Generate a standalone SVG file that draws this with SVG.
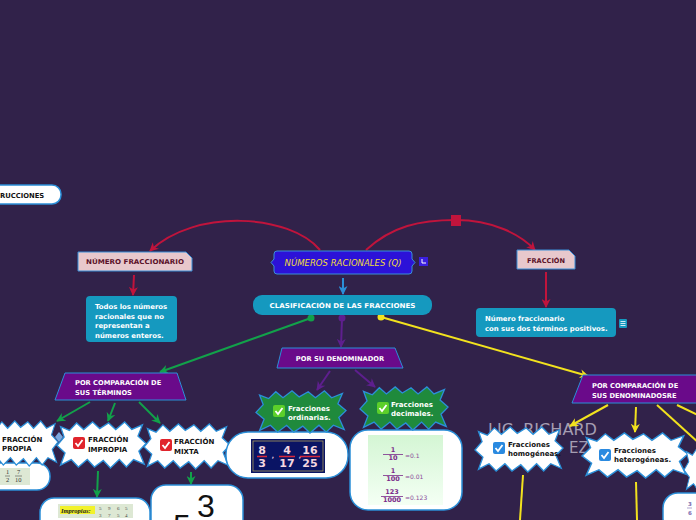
<svg xmlns="http://www.w3.org/2000/svg" width="696" height="520" viewBox="0 0 696 520">
<style>
.b{font-family:"DejaVu Sans","Liberation Sans",sans-serif;font-weight:bold}
.w{fill:#fff}
.k{fill:#111}
.sb{fill:#fff;stroke:#2b8fd8;stroke-width:1.5;vector-effect:non-scaling-stroke}
.sg{fill:#1f8a3c;stroke:#2b8fd8;stroke-width:1.5;vector-effect:non-scaling-stroke}
.wb{fill:#fff;stroke:#2b8fd8;stroke-width:1.5}
.trap{fill:#6a0a8a;stroke:#2b8fd8;stroke-width:1}
.pink{fill:#e8c8cc;stroke:#3a8fd8;stroke-width:1}
.teal{fill:#1599bf}
.c{fill:none;stroke-width:2}
.ser{font-family:"Liberation Serif",serif}
.pur{fill:#7a2a8a;font-family:"DejaVu Sans",sans-serif;font-weight:bold}
</style>
<defs>
<path id="star" d="M4,6 L14,10 L22,2 L30,9 L40,1 L48,8 L58,2 L66,9 L76,1 L84,9 L96,4 L91,16 L100,24 L92,32 L98,46 L86,41 L78,49 L70,41 L60,50 L52,42 L42,49 L34,41 L24,49 L16,41 L4,47 L9,34 L0,26 L8,17 Z"/>
<marker id="aR" viewBox="0 0 10 10" refX="9" refY="5" markerWidth="10" markerHeight="9" markerUnits="userSpaceOnUse" orient="auto"><path d="M0,0 L10,5 L0,10 L3,5 Z" fill="#c0143c"/></marker>
<marker id="aG" viewBox="0 0 10 10" refX="9" refY="5" markerWidth="10" markerHeight="9" markerUnits="userSpaceOnUse" orient="auto"><path d="M0,0 L10,5 L0,10 L3,5 Z" fill="#12a14a"/></marker>
<marker id="aP" viewBox="0 0 10 10" refX="9" refY="5" markerWidth="10" markerHeight="9" markerUnits="userSpaceOnUse" orient="auto"><path d="M0,0 L10,5 L0,10 L3,5 Z" fill="#5e1f8e"/></marker>
<marker id="aY" viewBox="0 0 10 10" refX="9" refY="5" markerWidth="10" markerHeight="9" markerUnits="userSpaceOnUse" orient="auto"><path d="M0,0 L10,5 L0,10 L3,5 Z" fill="#f2e21e"/></marker>
<marker id="aB" viewBox="0 0 10 10" refX="9" refY="5" markerWidth="10" markerHeight="9" markerUnits="userSpaceOnUse" orient="auto"><path d="M0,0 L10,5 L0,10 L3,5 Z" fill="#2b8fd8"/></marker>
<linearGradient id="gg" x1="0" y1="0" x2="0" y2="1"><stop offset="0" stop-color="#d4f6d4"/><stop offset="1" stop-color="#f4fff4"/></linearGradient>
<g id="chkR"><rect width="12" height="12" rx="2" fill="#e0242c"/><path d="M2.5,6 L5,9 L9.5,3" fill="none" stroke="#fff" stroke-width="1.8"/></g>
<g id="chkG"><rect width="12" height="12" rx="2" fill="#5ccf2a"/><path d="M2.5,6 L5,9 L9.5,3" fill="none" stroke="#fff" stroke-width="1.8"/></g>
<g id="chkB"><rect width="12" height="12" rx="2" fill="#2a8ae0"/><path d="M2.5,6 L5,9 L9.5,3" fill="none" stroke="#fff" stroke-width="1.8"/></g>
</defs>
<rect width="696" height="520" fill="#31224a"/>

<!-- watermark -->
<text x="488" y="435" font-family="DejaVu Sans,sans-serif" font-size="15" fill="#a59db2" textLength="109" lengthAdjust="spacingAndGlyphs">LIC. RICHARD</text>
<text x="569" y="453" font-family="DejaVu Sans,sans-serif" font-size="15" fill="#a59db2">EZ</text>

<g id="connectors">
<path class="c" stroke="#c0143c" d="M320,250 C290,214 195,208 150,251" marker-end="url(#aR)"/>
<path class="c" stroke="#c0143c" d="M366,250 C392,226 420,220 456,220 C492,220 520,234 535,250" marker-end="url(#aR)"/>
<rect x="451" y="215" width="10" height="11" fill="#c0143c"/>
<line class="c" stroke="#c0143c" x1="134" y1="275" x2="133" y2="295" marker-end="url(#aR)"/>
<line class="c" stroke="#c0143c" x1="546" y1="272" x2="546" y2="307" marker-end="url(#aR)"/>
<line class="c" stroke="#2b8fd8" x1="343" y1="278" x2="343" y2="294" marker-end="url(#aB)"/>
<line class="c" stroke="#12a14a" stroke-width="2.5" x1="311" y1="318" x2="160" y2="372" marker-end="url(#aG)"/>
<circle cx="311" cy="318" r="3.5" fill="#12a14a"/>
<line class="c" stroke="#5e1f8e" x1="342" y1="318" x2="341" y2="347" marker-end="url(#aP)"/>
<circle cx="342" cy="318" r="3.5" fill="#5e1f8e"/>
<line class="c" stroke="#f2e21e" x1="381" y1="317" x2="588" y2="376" marker-end="url(#aY)"/>
<circle cx="381" cy="317" r="3.5" fill="#f2e21e"/>
<line class="c" stroke="#12a14a" x1="90" y1="402" x2="57" y2="421" marker-end="url(#aG)"/>
<line class="c" stroke="#12a14a" x1="115" y1="403" x2="108" y2="421" marker-end="url(#aG)"/>
<line class="c" stroke="#12a14a" x1="139" y1="402" x2="160" y2="423" marker-end="url(#aG)"/>
<line class="c" stroke="#12a14a" x1="98" y1="471" x2="97" y2="497" marker-end="url(#aG)"/>
<line class="c" stroke="#12a14a" x1="191" y1="472" x2="191" y2="484" marker-end="url(#aG)"/>
<line class="c" stroke="#5e1f8e" x1="330" y1="371" x2="317" y2="390" marker-end="url(#aP)"/>
<line class="c" stroke="#5e1f8e" x1="355" y1="370" x2="375" y2="387" marker-end="url(#aP)"/>
<line class="c" stroke="#f2e21e" x1="608" y1="405" x2="570" y2="426" marker-end="url(#aY)"/>
<line class="c" stroke="#f2e21e" x1="636" y1="407" x2="635" y2="432" marker-end="url(#aY)"/>
<line class="c" stroke="#f2e21e" x1="657" y1="405" x2="700" y2="444"/>
<line class="c" stroke="#f2e21e" x1="677" y1="405" x2="700" y2="416"/>
<line class="c" stroke="#f2e21e" x1="523" y1="475" x2="520" y2="520"/>
<line class="c" stroke="#f2e21e" x1="636" y1="482" x2="637" y2="520"/>
</g>

<g id="instrucciones">
<rect x="-20" y="185" width="81" height="19" rx="9" class="wb"/>
<text x="0" y="198" class="b k" font-size="6.8">RUCCIONES</text>
</g>

<g id="main">
<path d="M277,251 H409 Q412,251 412,254 V259 L415,262.5 L412,266 V271 Q412,274 409,274 H277 Q274,274 274,271 V266 L271,262.5 L274,259 V254 Q274,251 277,251 Z" fill="#2c12d8" stroke="#3a8fd8" stroke-width="1"/>
<text x="343" y="265.5" text-anchor="middle" font-family="DejaVu Sans,sans-serif" font-style="italic" font-size="8.2" fill="#f2dc3a" textLength="117" lengthAdjust="spacingAndGlyphs">NÚMEROS RACIONALES (Q)</text>
<rect x="419" y="257" width="9" height="9" fill="#3a1fe0"/>
<path d="M422,259 V263 H426" fill="none" stroke="#fff" stroke-width="1"/>
</g>

<g id="clasificacion">
<rect x="253" y="295" width="179" height="20" rx="9" class="teal"/>
<text x="342.5" y="308" text-anchor="middle" class="b w" font-size="6.6" textLength="146" lengthAdjust="spacingAndGlyphs">CLASIFICACIÓN DE LAS FRACCIONES</text>
</g>

<g id="numero-fraccionario">
<path d="M78,252 H186 L192,258 V271 H78 Z" class="pink"/>
<text x="135" y="264" text-anchor="middle" class="b" fill="#5a1028" font-size="6.6" textLength="98" lengthAdjust="spacingAndGlyphs">NÚMERO FRACCIONARIO</text>
</g>

<g id="todos">
<rect x="86" y="296" width="91" height="46" rx="4" class="teal"/>
<text class="b w" font-size="6.9"><tspan x="95" y="309">Todos los números</tspan><tspan x="95" y="318.5">racionales que no</tspan><tspan x="95" y="328">representan a</tspan><tspan x="95" y="337.5">números enteros.</tspan></text>
</g>

<g id="fraccion">
<path d="M517,250 H569 L575,256 V269 H517 Z" class="pink"/>
<text x="546" y="262.5" text-anchor="middle" class="b" fill="#5a1028" font-size="6.6">FRACCIÓN</text>
</g>

<g id="numero-def">
<rect x="476" y="308" width="140" height="29" rx="4" class="teal"/>
<text class="b w" font-size="6.9"><tspan x="485" y="321">Número fraccionario</tspan><tspan x="485" y="330.5">con sus dos términos positivos.</tspan></text>
<rect x="619" y="319" width="8" height="9" rx="1" fill="#1599bf"/>
<path d="M620.5,321.5 H625.5 M620.5,323.5 H625.5 M620.5,325.5 H625.5" stroke="#fff" stroke-width="0.8"/>
</g>

<g id="por-terminos">
<path d="M65,373 H177 L186,400 H55 Z" class="trap"/>
<text class="b w" font-size="6.7"><tspan x="75" y="385">POR COMPARACIÓN DE</tspan><tspan x="75" y="394.5">SUS TÉRMINOS</tspan></text>
</g>

<g id="por-denominador">
<path d="M282,348 H395 L403,368 H277 Z" class="trap"/>
<text x="340" y="361" text-anchor="middle" class="b w" font-size="6.7">POR SU DENOMINADOR</text>
</g>

<g id="por-denominadores">
<path d="M583,375 H700 L706,403 H572 Z" class="trap"/>
<text class="b w" font-size="6.7"><tspan x="592" y="388">POR COMPARACIÓN DE</tspan><tspan x="592" y="397.5">SUS DENOMINADOSRE</tspan></text>
</g>

<g id="propia">
<rect x="-20" y="463" width="70" height="27" rx="13" class="wb"/>
<rect x="0" y="468" width="30" height="17" fill="#dde8d4"/>
<text class="ser" font-size="6.5" fill="#333"><tspan x="6" y="474">1</tspan><tspan x="6" y="482">2</tspan><tspan x="17" y="474">7</tspan><tspan x="15" y="482">10</tspan></text>
<path d="M5,476 H10 M15,476 H22" stroke="#333" stroke-width="0.5"/>
<use href="#star" class="sb" transform="translate(-14,420) scale(0.72,0.92)"/>
<path d="M55,437 L59,432 L63,437 L59,442 Z" fill="#7aa8e0"/>
<text class="b k" font-size="7"><tspan x="2" y="442">FRACCIÓN</tspan><tspan x="2" y="451">PROPIA</tspan></text>
</g>

<g id="impropia">
<rect x="40" y="498" width="110" height="40" rx="14" class="wb"/>
<rect x="58" y="504" width="75" height="14" fill="#dde8d4"/>
<rect x="60" y="506" width="35" height="8" fill="#f2f22a"/>
<text x="61" y="513" class="ser" font-style="italic" font-weight="bold" font-size="6.5" fill="#222">Impropias:</text>
<text class="ser" font-size="5" fill="#444"><tspan x="99" y="510">5</tspan><tspan x="99" y="517">3</tspan><tspan x="108" y="510">9</tspan><tspan x="108" y="517">7</tspan><tspan x="117" y="510">6</tspan><tspan x="117" y="517">5</tspan><tspan x="125" y="510">5</tspan><tspan x="125" y="517">4</tspan></text>
<use href="#star" class="sb" transform="translate(57,421) scale(0.89,0.94)"/>
<use href="#chkR" x="73" y="437"/>
<text class="b k" font-size="7"><tspan x="88" y="442">FRACCIÓN</tspan><tspan x="88" y="451.5">IMPROPIA</tspan></text>
</g>

<g id="mixta">
<rect x="151" y="485" width="92" height="50" rx="15" class="wb"/>
<text x="197" y="517" font-family="Liberation Sans,sans-serif" font-size="32" fill="#111">3</text>
<text x="173" y="537" font-family="Liberation Sans,sans-serif" font-size="32" fill="#111">5</text>
<use href="#star" class="sb" transform="translate(144,423) scale(0.86,0.92)"/>
<use href="#chkR" x="160" y="439"/>
<text class="b k" font-size="7"><tspan x="174" y="444">FRACCIÓN</tspan><tspan x="174" y="453.5">MIXTA</tspan></text>
</g>

<g id="ordinarias">
<rect x="226" y="432" width="122" height="46" rx="22" class="wb"/>
<rect x="251" y="439" width="74" height="34" fill="#0a1464"/>
<rect x="253" y="441" width="70" height="30" fill="none" stroke="#a89a5a" stroke-width="0.8"/>
<g font-family="DejaVu Sans,sans-serif" font-weight="bold" font-size="11" fill="#f6d8e0" text-anchor="middle">
<text x="262" y="454">8</text><text x="262" y="467">3</text>
<text x="287" y="454">4</text><text x="287" y="467">17</text>
<text x="310" y="454">16</text><text x="310" y="467">25</text>
<text x="273" y="458" font-size="6">,</text><text x="300" y="458" font-size="6">,</text>
</g>
<path d="M257,456.5 H267 M279,456.5 H295 M300,456.5 H320" stroke="#d8283c" stroke-width="1.5"/>
<use href="#star" class="sg" transform="translate(256,390) scale(0.9,0.86)"/>
<use href="#chkG" x="273" y="405"/>
<text class="b w" font-size="7"><tspan x="288" y="411">Fracciones</tspan><tspan x="288" y="420">ordinarias.</tspan></text>
</g>

<g id="decimales">
<rect x="350" y="430" width="112" height="80" rx="18" class="wb"/>
<rect x="368" y="435" width="75" height="70" fill="url(#gg)"/>
<g class="pur" font-size="6.5" text-anchor="middle">
<text x="393" y="452">1</text><text x="393" y="460">10</text>
<text x="393" y="473">1</text><text x="393" y="481">100</text>
<text x="392" y="494">123</text><text x="392" y="502">1000</text>
</g>
<path d="M383,454.5 H403 M383,475.5 H403 M381,496.5 H403" stroke="#7a2a8a" stroke-width="0.8"/>
<g font-family="DejaVu Sans,sans-serif" font-size="6" fill="#8a4a9a">
<text x="405" y="458">=0.1</text><text x="405" y="479">=0.01</text><text x="405" y="500">=0.123</text>
</g>
<use href="#star" class="sg" transform="translate(360,386) scale(0.88,0.88)"/>
<use href="#chkG" x="377" y="402"/>
<text class="b w" font-size="7"><tspan x="391" y="407">Fracciones</tspan><tspan x="391" y="416">decimales.</tspan></text>
</g>

<g id="homogeneas">
<use href="#star" class="sb" transform="translate(475,426) scale(0.88,0.92)"/>
<use href="#chkB" x="493" y="442"/>
<text class="b k" font-size="7"><tspan x="508" y="447">Fracciones</tspan><tspan x="508" y="456">homogéneas.</tspan></text>
</g>

<g id="heterogeneas">
<use href="#star" class="sb" transform="translate(582,432) scale(1.06,0.92)"/>
<use href="#chkB" x="599" y="449"/>
<text class="b k" font-size="7"><tspan x="614" y="453">Fracciones</tspan><tspan x="614" y="462">heterogéneas.</tspan></text>
</g>

<g id="right-partial">
<use href="#star" class="sb" transform="translate(684,446) scale(0.6,0.92)"/>
<rect x="663" y="493" width="60" height="40" rx="15" class="wb"/>
<text class="b" font-size="5.5" fill="#7a6ab0"><tspan x="688" y="506">3</tspan><tspan x="688" y="515">6</tspan></text>
<path d="M687,508 H692" stroke="#7a6ab0" stroke-width="0.6"/>
</g>
</svg>
